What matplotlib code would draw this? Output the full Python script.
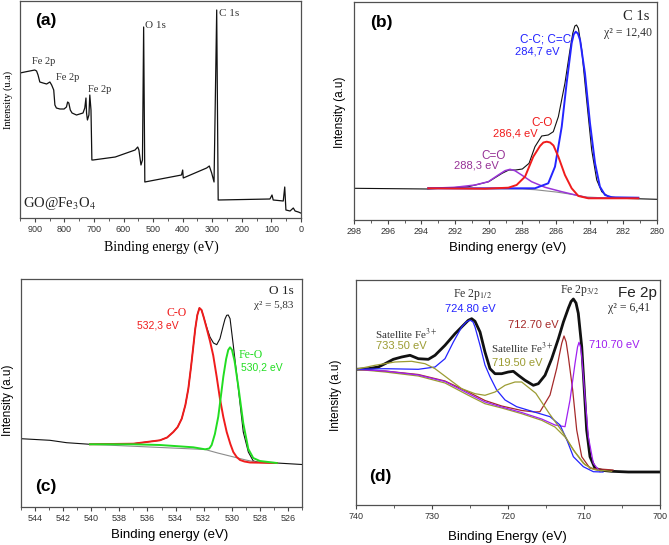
import matplotlib
matplotlib.use('Agg')
import matplotlib.pyplot as plt
from matplotlib.ticker import MultipleLocator

W, H = 669, 545
SANS = 'Liberation Sans'
SERIF = 'Liberation Serif'
plt.rcParams['mathtext.fontset'] = 'stix'

# (a) survey spectrum
survey_be = [950, 934, 917, 900, 894, 889, 883, 872, 860, 849, 843, 836, 832, 827, 815, 801, 793, 789,
             785, 780, 774, 759, 748, 737, 731, 727, 725, 722, 717, 714, 710, 707, 703, 628, 561, 552,
             548, 541, 536, 532, 528, 404, 400, 398, 319, 310, 302, 294, 285, 280, 105, 98, 94, 60,
             55, 51, 37, 26, 20, 9, 1]
survey_int = [145, 146, 147, 148, 147, 143, 136, 135, 134, 136, 133, 128, 113, 110, 109, 109, 111, 116,
              115, 108, 105, 103, 104, 105, 110, 120, 105, 98, 103, 123, 108, 58, 58, 61, 68, 71,
              68, 53, 58, 191, 36, 43, 48, 40, 50, 52, 45, 36, 208, 18, 19, 23, 18, 17,
              31, 8, 7, 10, 7, 6, 5]
survey_labels = [('Fe 2p', 32, 62), ('Fe 2p', 56, 77), ('Fe 2p', 88, 89), ('O 1s', 145, 25), ('C 1s', 219, 13)]

# (b) C 1s
c1s_be = [298.0, 293.6, 291.2, 290.0, 289.2, 288.8, 288.4, 288.0, 287.6, 287.25, 286.85, 286.46, 286.16,
          285.86, 285.47, 285.17, 285.0, 284.88, 284.78, 284.67, 284.47, 284.18, 283.88, 283.58,
          283.28, 282.89, 282.1, 280.0]
c1s_raw = [31.7, 31.0, 33.3, 38.3, 46.7, 50, 50, 51, 56.7, 73.3, 84, 85, 88.3, 103.3, 136.7, 170, 187,
           194, 195, 191.7, 170, 120, 70, 40, 28.3, 23.3, 21.7, 20.7]
c1s_bg_be = [293.59, 288.0, 287.25, 286.0, 285.0, 284.2, 283.0, 281.11]
c1s_bg = [31.5, 31.0, 30.3, 28.0, 25.5, 23.0, 22.0, 21.8]
c1s_cc_be = [293.59, 287.25, 286.46, 286.06, 285.66, 285.37, 285.07, 284.95, 284.83, 284.7, 284.57,
             284.28, 283.98, 283.68, 283.39, 283.09, 282.69, 281.11]
c1s_cc = [31.7, 31.7, 36.7, 53.3, 93.3, 136.7, 176.7, 185.5, 188.3, 186.5, 180, 146.7, 96.7, 56.7,
          33.3, 25, 22.7, 22.3]
c1s_co_be = [293.59, 290.22, 288.83, 288.34, 287.84, 287.35, 286.95, 286.75, 286.55, 286.35, 286.15,
             285.86, 285.47, 285.07, 284.67, 284.08, 281.11]
c1s_co = [31.7, 31.3, 32.3, 35, 43.3, 63.3, 74, 77.5, 78.3, 77.5, 74.5, 63.3, 45, 31.7, 24, 21.7, 21.7]
c1s_cdo_be = [293.59, 292.0, 290.81, 290.02, 289.43, 289.03, 288.73, 288.44, 288.04, 287.45, 286.65,
              285.66, 284.67, 284.08, 281.11]
c1s_cdo = [31.7, 32.7, 35, 38.3, 45, 49.3, 50.7, 49.3, 45, 38.3, 32.7, 28.3, 24.3, 22, 22]

# (c) O 1s
o1s_be = [545.0, 542.94, 541.75, 540.09, 537.0, 535.11, 534.6, 534.16, 533.85, 533.56, 533.3, 533.09,
          532.9, 532.74, 532.6, 532.45, 532.3, 532.15, 532.0, 531.79, 531.55, 531.3, 531.07, 530.84,
          530.6, 530.48, 530.36, 530.25, 530.12, 529.89, 529.53, 529.18, 528.82, 528.47, 528.0,
          526.8, 525.0]
o1s_raw = [68.3, 66.7, 64.3, 62.7, 63.3, 66.7, 69.5, 75, 80, 88.3, 102, 118.3, 140, 160, 178, 192, 199,
           197, 190, 180, 170, 164, 162.3, 168.3, 181.7, 188, 191.7, 192, 188.3, 161.7, 118.3, 75, 55,
           46, 44.5, 44, 42.5]
o1s_bg_be = [540.09, 531.9, 531.0, 530.0, 529.0, 528.3, 526.8]
o1s_bg = [62.7, 57.5, 54, 50.5, 47, 45, 44]
o1s_co_be = [540.09, 537.0, 535.11, 534.6, 534.16, 533.85, 533.56, 533.3, 533.09, 532.9, 532.74, 532.6,
             532.45, 532.3, 532.15, 532.0, 531.79, 531.55, 531.32, 531.07, 530.84, 530.6, 530.36,
             530.1, 529.89, 529.65, 529.41, 529.1, 528.7, 526.8]
o1s_co = [62.7, 63.3, 66.7, 69.5, 75, 80, 88.3, 102, 118.3, 140, 160, 178, 192, 199, 197, 190, 179,
          166, 151.7, 130, 108.3, 90, 75, 63, 55, 50, 47, 45.5, 44.5, 44]
o1s_feo_be = [540.09, 537.0, 535.11, 532.74, 531.9, 531.6, 531.43, 531.2, 530.96, 530.78, 530.6, 530.4,
              530.25, 530.12, 529.98, 529.8, 529.53, 529.18, 528.82, 528.47, 528.0, 526.8]
o1s_feo = [62.7, 62.7, 62, 59.7, 57.7, 58.5, 62, 73, 90.3, 110, 130.3, 148, 157, 159.7, 157, 146,
           120.3, 83.7, 58, 49, 46, 44]

# (d) Fe 2p
fe2p_be = [740.0, 738.38, 737.06, 736.18, 735.09, 733.99, 732.89, 731.8, 730.48, 729.6, 728.29, 726.97,
           725.88, 725.22, 724.78, 724.34, 723.68, 723.03, 722.37, 721.71, 720.83, 719.96, 719.3,
           718.64, 717.76, 716.67, 716.01, 715.13, 714.25, 713.37, 712.71, 712.05, 711.7, 711.4,
           711.05, 710.75, 710.3, 709.96, 709.65, 709.21, 708.55, 707.67, 706.36, 704.17, 700.0]
fe2p_raw = [135.7, 136.3, 138, 141.3, 145.7, 148, 149.7, 146.3, 145.7, 149.7, 159.7, 171.3, 179.7,
            184.7, 186.3, 183.7, 173, 153, 136.3, 131.3, 131.3, 133, 133.7, 129.7, 124.7, 119.7,
            121.3, 129.7, 146.3, 166.3, 183, 197, 203.5, 206, 202, 191.7, 158.3, 115, 75, 48.3, 36.7,
            34.7, 33.7, 33, 33]
fe2p_base_be = [740, 736.18, 731.8, 728.29, 725.22, 723.03, 720.83, 718.2, 715.57, 713.82, 712.5,
                711.18, 709.87, 708.55, 706.36]
fe2p_base = [135.7, 133, 129, 122, 109.7, 101.3, 97, 91.3, 84.7, 78, 68, 53, 40.3, 35.3, 33.7]
fe2p_12_be = [740, 736.18, 731.8, 729.6, 728.29, 727.19, 726.09, 725.5, 725.0, 724.6, 724.34, 723.68,
              723.03, 722.37, 721.49, 720.39, 718.86, 716.67, 714.47, 713.16, 712.3, 711.4, 710.09,
              708.77, 707.5]
fe2p_12 = [135.7, 136.3, 135.7, 138, 146.3, 163, 178, 183, 185, 183, 178, 159.7, 140, 128.3, 115, 105,
           98.3, 93.3, 88.3, 80, 66, 48.3, 38.3, 33.3, 33]
fe2p_sat_be = [740, 737.5, 734.87, 732.68, 730.92, 729.6, 727.85, 726.09, 724.34, 723.03, 721.71,
               720.39, 719.08, 718.2, 716.34, 714.59, 712.84, 711.4, 710.09, 708.99, 707.67]
fe2p_sat = [135.7, 139.7, 143, 143.7, 141.3, 136.3, 126.3, 116.3, 111.3, 109.7, 113, 119.7, 123, 123,
            111.7, 91.7, 73.3, 55, 41.7, 36.3, 34]
fe2p_712_be = [740, 736.18, 731.8, 728.29, 725.22, 723.03, 720.83, 718.2, 716.45, 715.79, 714.47,
               713.59, 712.93, 712.63, 712.35, 712.06, 711.49, 710.96, 710.3, 709.21, 706.18]
fe2p_712 = [135.7, 134, 130.5, 124, 113, 104.5, 99, 94.5, 93, 93.3, 110, 136.7, 161.7, 169, 163, 148.3,
            115, 75, 48.3, 36.7, 35]
fe2p_710_be = [740, 736.18, 731.8, 728.29, 725.22, 723.03, 720.83, 718.2, 715.57, 713.82, 712.5,
               711.84, 711.18, 710.85, 710.66, 710.45, 710.3, 709.87, 709.43, 708.77, 707.89]
fe2p_710 = [135.7, 134, 130, 123.5, 111.5, 103, 98, 92.5, 86, 80, 78.3, 105, 141.7, 158, 162.7, 158,
            148.3, 108.3, 68.3, 41.7, 33.3]

BLUE = '#2424ff'
RED = '#f01c1c'
PURPLE = '#9a35d8'
GREEN = '#22dd22'
OLIVE = '#9c9c32'
DKRED = '#a52a2a'
VIOLET = '#a020f0'
GRAY = '#8c8c8c'

fig = plt.figure(figsize=(W / 100, H / 100), dpi=100)


def place(x, y, s, **kw):
    kw.setdefault('ha', 'center')
    kw.setdefault('va', 'center')
    fig.text(x / W, 1 - y / H, s, **kw)


def make_axes(left, top, right, bottom, xlim, ylim, major, minor):
    ax = fig.add_axes([left / W, 1 - bottom / H, (right - left) / W, (bottom - top) / H])
    ax.set_xlim(*xlim)
    ax.set_ylim(*ylim)
    ax.xaxis.set_major_locator(MultipleLocator(major))
    ax.xaxis.set_minor_locator(MultipleLocator(minor))
    ax.set_yticks([])
    ax.tick_params(axis='x', which='major', direction='out', length=3, width=0.8, pad=2,
                   labelsize=6.5, color='#444444', labelcolor='#333333')
    ax.tick_params(axis='x', which='minor', direction='out', length=1.8, width=0.6, color='#444444')
    for lab in ax.get_xticklabels():
        lab.set_fontfamily(SANS)
    for s in ax.spines.values():
        s.set_color('#505050')
        s.set_linewidth(0.9)
    return ax


# ---- (a)
ax = make_axes(20, 1, 301, 218, (950, 0), (0, 217), 100, 50)
ax.plot(survey_be, survey_int, color='#111111', lw=0.9)
for txt, x, y in survey_labels:
    place(x, y, txt, ha='left', family=SERIF, fontsize=7.5 if 'Fe' in txt else 8, color='#333333')
place(46, 20, '(a)', family=SANS, fontsize=12.5, fontweight='bold')
place(23, 203, r'GO@Fe$_3$O$_4$', ha='left', family=SERIF, fontsize=10.5, color='#222222')
place(8, 100, 'Intensity (u.a)', rotation=90, family=SERIF, fontsize=7.5)
place(161, 247, 'Binding energy (eV)', family=SERIF, fontsize=10)

# ---- (b)
ax = make_axes(354, 2, 657, 220, (298, 280), (0, 218), 2, 1)
ax.plot(c1s_be, c1s_raw, color='#111111', lw=0.8)
ax.plot(c1s_bg_be, c1s_bg, color=GRAY, lw=0.8)
ax.plot(c1s_cdo_be, c1s_cdo, color=PURPLE, lw=1.1)
ax.plot(c1s_cc_be, c1s_cc, color=BLUE, lw=1.4)
ax.plot(c1s_co_be, c1s_co, color=RED, lw=1.4)
place(381, 23, '(b)', family=SANS, fontsize=12.5, fontweight='bold')
place(636, 16, 'C 1s', family=SERIF, fontsize=10.5, color='#222222')
place(628, 33, 'χ² = 12,40', family=SERIF, fontsize=8.5, color='#333333')
place(546, 40, 'C-C; C=C', family=SANS, fontsize=8.5, color=BLUE)
place(537, 52, '284,7 eV', family=SANS, fontsize=8, color=BLUE)
place(542, 123, 'C-O', family=SANS, fontsize=8.5, color=RED)
place(515, 134, '286,4 eV', family=SANS, fontsize=8, color=RED)
place(494, 156, 'C=O', family=SANS, fontsize=8.5, color='#963296')
place(476, 166, '288,3 eV', family=SANS, fontsize=8, color='#963296')
place(340, 112, 'Intensity (a.u)', rotation=90, family=SANS, fontsize=8.5)
place(508, 248, 'Binding energy (eV)', family=SANS, fontsize=9.5)

# ---- (c)
ax = make_axes(21, 279, 302, 507, (545, 525), (0, 228), 2, 1)
ax.plot(o1s_be, o1s_raw, color='#111111', lw=0.8)
ax.plot(o1s_bg_be, o1s_bg, color=GRAY, lw=0.8)
ax.plot(o1s_co_be, o1s_co, color=RED, lw=1.4)
ax.plot(o1s_feo_be, o1s_feo, color=GREEN, lw=1.4)
place(46, 487, '(c)', family=SANS, fontsize=12.5, fontweight='bold')
place(281, 291, 'O 1s', family=SERIF, fontsize=9.5, color='#222222')
place(274, 306, 'χ² = 5,83', family=SERIF, fontsize=8, color='#333333')
place(177, 313, 'C-O', family=SERIF, fontsize=8.5, color=RED)
place(158, 326, '532,3 eV', family=SANS, fontsize=7.5, color=RED)
place(251, 355, 'Fe-O', family=SERIF, fontsize=8.5, color=GREEN)
place(262, 368, '530,2 eV', family=SANS, fontsize=7.5, color=GREEN)
place(8, 400, 'Intensity (a.u)', rotation=90, family=SANS, fontsize=8.5)
place(170, 535, 'Binding energy (eV)', family=SANS, fontsize=9.5)

# ---- (d)
ax = make_axes(356, 280, 660, 505, (740, 700), (0, 225), 10, 5)
ax.plot(fe2p_be, fe2p_raw, color='#111111', lw=2.0)
ax.plot(fe2p_base_be, fe2p_base, color=OLIVE, lw=0.9)
ax.plot(fe2p_712_be, fe2p_712, color=DKRED, lw=0.9)
ax.plot(fe2p_710_be, fe2p_710, color=VIOLET, lw=0.9)
ax.plot(fe2p_12_be, fe2p_12, color=BLUE, lw=0.9)
ax.plot(fe2p_sat_be, fe2p_sat, color=OLIVE, lw=0.9)
place(380, 477, '(d)', family=SANS, fontsize=12.5, fontweight='bold')
place(472, 294, r'Fe 2p$_{1/2}$', family=SERIF, fontsize=8.5, color='#333333')
place(470, 309, '724.80 eV', family=SANS, fontsize=8, color=BLUE)
place(579, 291, r'Fe 2p$_{3/2}$', family=SERIF, fontsize=8.5, color='#333333')
place(637, 293, 'Fe 2p', family=SANS, fontsize=11, color='#222222')
place(629, 308, 'χ² = 6,41', family=SERIF, fontsize=8.5, color='#333333')
place(533, 325, '712.70 eV', family=SANS, fontsize=8, color=DKRED)
place(614, 345, '710.70 eV', family=SANS, fontsize=8, color=VIOLET)
place(406, 334, r'Satellite Fe$^{3+}$', family=SERIF, fontsize=8, color='#333333')
place(401, 346, '733.50 eV', family=SANS, fontsize=8, color=OLIVE)
place(522, 348, r'Satellite Fe$^{3+}$', family=SERIF, fontsize=8, color='#333333')
place(517, 363, '719.50 eV', family=SANS, fontsize=8, color=OLIVE)
place(336, 395, 'Intensity (a.u)', rotation=90, family=SANS, fontsize=8.5)
place(507, 537, 'Binding Energy (eV)', family=SANS, fontsize=9.5)

fig.savefig('out.png', dpi=100)
